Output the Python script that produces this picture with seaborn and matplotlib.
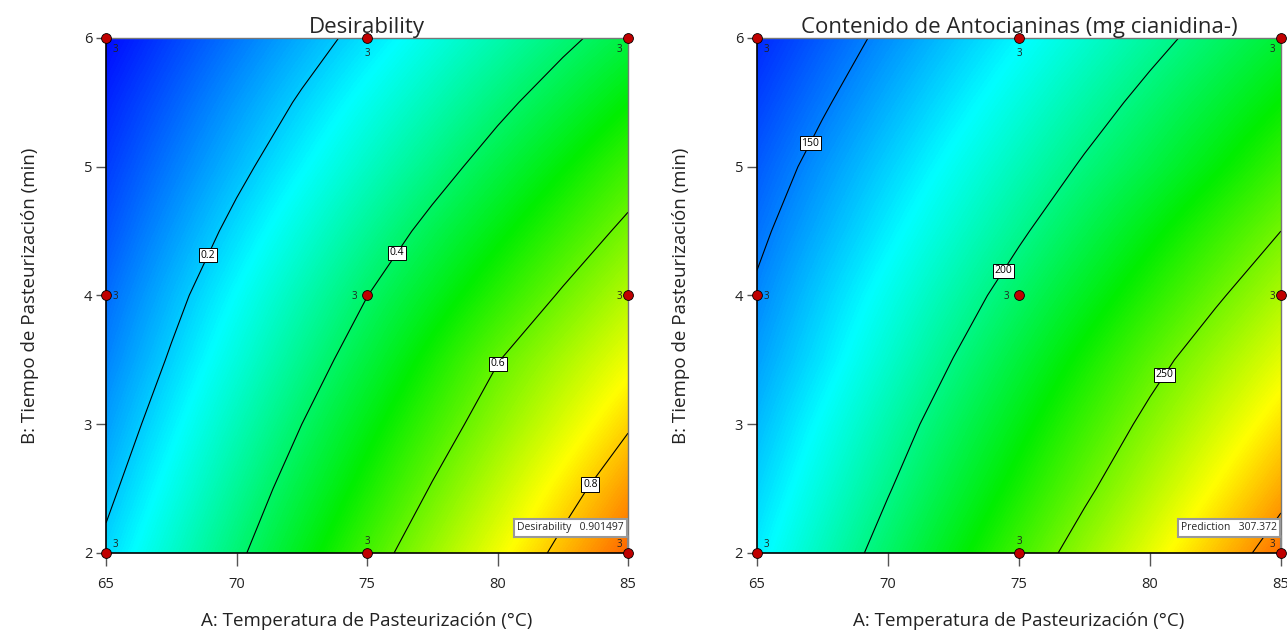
import numpy as np
import pandas as pd
import matplotlib
matplotlib.use("Agg")
import matplotlib.pyplot as plt
from matplotlib.colors import LinearSegmentedColormap
import seaborn as sns

# Ejes del diseño (rejilla de lectura)
temperatura = [65, 67.5, 70, 72.5, 75, 77.5, 80, 82.5, 85]
tiempo = [2, 2.5, 3, 3.5, 4, 4.5, 5, 5.5, 6]

# Superficies (filas = tiempo 2..6, columnas = temperatura 65..85)
deseabilidad = [
    [0.214, 0.300, 0.386, 0.475, 0.564, 0.651, 0.736, 0.820, 0.902],
    [0.184, 0.268, 0.353, 0.437, 0.521, 0.605, 0.688, 0.770, 0.850],
    [0.156, 0.237, 0.319, 0.400, 0.481, 0.561, 0.640, 0.716, 0.792],
    [0.130, 0.207, 0.284, 0.362, 0.439, 0.518, 0.597, 0.666, 0.734],
    [0.107, 0.180, 0.253, 0.326, 0.399, 0.469, 0.539, 0.608, 0.676],
    [0.082, 0.150, 0.218, 0.286, 0.354, 0.421, 0.486, 0.551, 0.617],
    [0.059, 0.121, 0.183, 0.245, 0.308, 0.370, 0.433, 0.496, 0.559],
    [0.036, 0.093, 0.151, 0.208, 0.266, 0.323, 0.381, 0.439, 0.498],
    [0.010, 0.064, 0.117, 0.170, 0.223, 0.277, 0.330, 0.383, 0.436],
]
antocianinas = [
    [172.3, 189.2, 206.1, 223.0, 239.9, 256.8, 273.6, 290.5, 307.4],
    [167.0, 183.0, 199.0, 215.1, 231.1, 247.1, 263.2, 279.3, 295.5],
    [161.8, 177.1, 192.5, 207.9, 223.2, 238.6, 253.9, 269.0, 284.1],
    [156.6, 170.7, 185.5, 200.3, 215.1, 229.9, 244.7, 258.9, 272.7],
    [151.8, 165.7, 179.3, 192.9, 206.6, 220.3, 234.0, 247.8, 261.4],
    [147.2, 159.9, 172.6, 185.2, 197.9, 210.9, 223.9, 236.9, 250.0],
    [142.5, 154.5, 166.3, 178.1, 189.9, 201.7, 213.1, 225.2, 238.0],
    [137.3, 148.4, 159.7, 170.9, 182.1, 193.3, 204.4, 215.6, 227.0],
    [132.1, 142.7, 153.2, 163.7, 174.3, 184.8, 195.4, 205.9, 216.5],
]

niveles_des = [0.2, 0.4, 0.6, 0.8]
niveles_ant = [150, 200, 250, 300]
etiquetas_des = [0.2, 0.4, 0.6, 0.8]
etiquetas_ant = [150, 200, 250]
rango_des = (0.0, 1.0)
rango_ant = (124, 330)

# Puntos del diseño y número de réplicas
pts_temp = [65, 65, 65, 75, 75, 75, 85, 85, 85]
pts_tiempo = [2, 4, 6, 2, 4, 6, 2, 4, 6]
replicas = [3, 3, 3, 3, 3, 3, 3, 3, 3]

# Predicción marcada con bandera
flag_temp, flag_tiempo = 85, 2
pred_des = "0.901497"
pred_ant = "307.372"

sns.set_style("ticks")
plt.rcParams["font.family"] = ["Open Sans", "DejaVu Sans"]

cmap = LinearSegmentedColormap.from_list(
    "design_expert", ["#0000ff", "#00ffff", "#00ee00", "#ffff00", "#ff0000"]
)

puntos = pd.DataFrame({"A": pts_temp, "B": pts_tiempo, "n": replicas})


def dibujar_panel(ax, z, rango, niveles, etiquetas, fmt, posiciones, titulo,
                  nombre_flag, valor_flag):
    z = np.array(z)
    dx = (temperatura[1] - temperatura[0]) / 2
    dy = (tiempo[1] - tiempo[0]) / 2
    ax.imshow(z, origin="lower", cmap=cmap, vmin=rango[0], vmax=rango[1],
              extent=[temperatura[0] - dx, temperatura[-1] + dx,
                      tiempo[0] - dy, tiempo[-1] + dy],
              interpolation="bilinear", interpolation_stage="data",
              aspect="auto", zorder=0)
    cs = ax.contour(temperatura, tiempo, z, levels=niveles, colors="black",
                    linewidths=0.8, zorder=2)
    textos = ax.clabel(cs, levels=etiquetas, fmt=fmt, fontsize=7.5,
                       inline=False, manual=posiciones)
    for t in textos:
        t.set_rotation(0)
        t.set_bbox(dict(facecolor="white", edgecolor="black", linewidth=0.7,
                        boxstyle="square,pad=0.15"))
        t.set_zorder(4)

    sns.scatterplot(data=puntos, x="A", y="B", ax=ax, color="#c00000",
                    edgecolor="black", linewidth=0.6, s=50, zorder=6,
                    clip_on=False, legend=False)
    for _, p in puntos.iterrows():
        if p.A == 65:
            dxp = 6.5
        elif p.A == 85:
            dxp = -6
        else:
            dxp = -9 if p.B == 4 else 0
        if p.B == 6:
            dyp = -8 if dxp != 0 else -11
        elif p.B == 2:
            dyp = 6 if dxp != 0 else 8
        else:
            dyp = -1
        ax.annotate(str(int(p.n)), (p.A, p.B), xytext=(dxp, dyp),
                    textcoords="offset points", ha="center", va="center",
                    fontsize=7, color="#222222", zorder=7,
                    annotation_clip=False)

    # bandera de predicción
    ax.plot([flag_temp, flag_temp], [flag_tiempo, flag_tiempo + 0.13],
            color="#888888", linewidth=1.5, zorder=5, clip_on=False)
    ax.annotate(f"{nombre_flag}   {valor_flag}", (flag_temp, flag_tiempo + 0.195),
                xytext=(-3, 0), textcoords="offset points", ha="right",
                va="center", fontsize=7.5, zorder=8, annotation_clip=False,
                bbox=dict(facecolor="white", edgecolor="#999999", linewidth=1.5,
                          boxstyle="square,pad=0.3"))

    ax.set_xlim(65, 85)
    ax.set_ylim(2, 6)
    ax.set_xticks([65, 70, 75, 80, 85])
    ax.set_yticks([2, 3, 4, 5, 6])
    ax.tick_params(axis="x", length=9, width=1, pad=8, labelsize=10.5,
                   color="#555555", labelcolor="#222222")
    ax.tick_params(axis="y", length=7, width=1, pad=3, labelsize=10.5,
                   color="#555555", labelcolor="#222222")
    for lado in ["left", "bottom"]:
        ax.spines[lado].set_color("black")
        ax.spines[lado].set_linewidth(1.2)
    for lado in ["top", "right"]:
        ax.spines[lado].set_color("#777777")
        ax.spines[lado].set_linewidth(1.0)
    ax.set_title(titulo, fontsize=16, pad=2)
    ax.set_xlabel("A: Temperatura de Pasteurización (°C)", fontsize=13.5,
                  labelpad=15, color="#222222")
    ax.set_ylabel("B: Tiempo de Pasteurización (min)", fontsize=13.5,
                  labelpad=32, color="#222222")


fig = plt.figure(figsize=(12.87, 6.32), dpi=100)
ax1 = fig.add_axes([0.0824, 0.125, 0.4056, 0.815])
ax2 = fig.add_axes([0.5882, 0.125, 0.4071, 0.815])

dibujar_panel(ax1, deseabilidad, rango_des, niveles_des, etiquetas_des, "%.1f",
              [(68.7, 4.33), (76.15, 4.33), (80.0, 3.47), (83.5, 2.54)],
              "Desirability", "Desirability", pred_des)
dibujar_panel(ax2, antocianinas, rango_ant, niveles_ant, etiquetas_ant, "%d",
              [(66.95, 5.19), (74.2, 4.22), (80.5, 3.39)],
              "Contenido de Antocianinas (mg cianidina-)", "Prediction", pred_ant)

fig.savefig("out.png", dpi=100)
